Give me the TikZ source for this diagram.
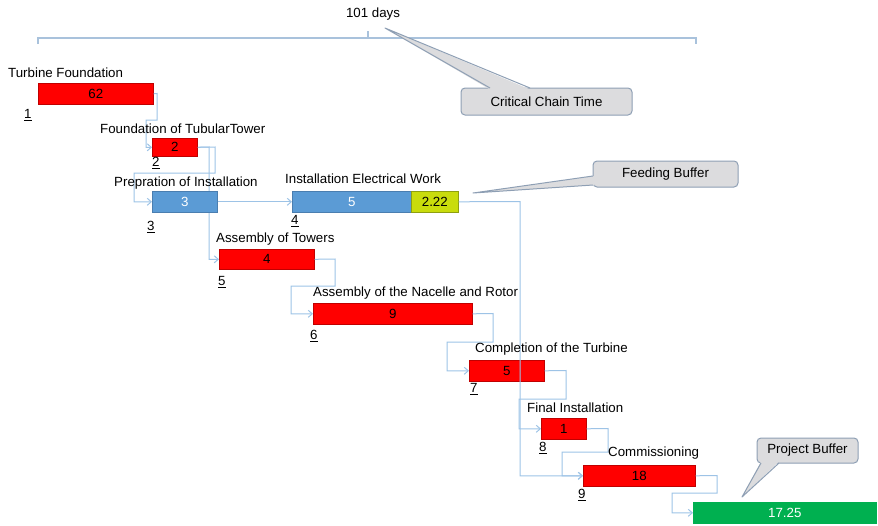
\documentclass[tikz,border=0pt]{standalone}
\usepackage{fontspec}
\setmainfont{Liberation Sans}
\usetikzlibrary{arrows.meta}
\definecolor{taskred}{HTML}{FF0000}
\definecolor{taskredline}{HTML}{C00000}
\definecolor{taskblue}{HTML}{5B9BD5}
\definecolor{taskblueline}{HTML}{4A7EB0}
\definecolor{bufyellow}{HTML}{C9DC0C}
\definecolor{bufyellowline}{HTML}{8FA010}
\definecolor{bufgreen}{HTML}{00B050}
\definecolor{linkblue}{HTML}{9DC3E6}
\definecolor{bracketblue}{HTML}{A9C2DC}
\definecolor{calloutfill}{HTML}{DCDCDE}
\definecolor{calloutline}{HTML}{8E9FB4}
\pgfdeclarelayer{behind}
\pgfsetlayers{behind,main}
\tikzset{
  x=1pt, y=-1pt,
  every node/.style={font=\fontsize{13.3}{15}\selectfont, inner sep=0pt},
  taskbox/.style={anchor=north west, draw, line width=0.6pt},
  redtask/.style={taskbox, fill=taskred, draw=taskredline, text=black},
  bluetask/.style={taskbox, fill=taskblue, draw=taskblueline, text=white},
  feedbuf/.style={taskbox, fill=bufyellow, draw=bufyellowline, text=black},
  projbuf/.style={taskbox, fill=bufgreen, draw=bufgreen, text=white},
  tasklabel/.style={anchor=west},
  tasknum/.style={anchor=west},
  link/.style={draw=linkblue, line width=1pt, -{Straight Barb[length=4pt,width=7pt]}},
  bracketline/.style={draw=bracketblue, line width=1.3pt},
  calloutbox/.style={draw=calloutline, fill=calloutfill, line width=1pt, rounded corners=4pt},
  calloutptr/.style={draw=calloutline, line width=1pt, line join=round},
}
\begin{document}
\begin{tikzpicture}
\useasboundingbox (0,0) rectangle (878,525);

% total duration bracket
\node (days) at (373,14) {101 days};
\coordinate (brL) at (38,38);
\coordinate (brR) at (696,38);
\draw[bracketline] (38,44) -- (brL) -- (brR) -- (696,44);
\draw[bracketline] (368,38) -- (368,31);

% tasks of the chain
\node[redtask, minimum width=115, minimum height=21] (t1) at (38,83) {62};
\node[redtask, minimum width=45, minimum height=18] (t2) at (152,138) {2};
\node[bluetask, minimum width=65, minimum height=21] (t3) at (152,191) {3};
\node[bluetask, minimum width=119, minimum height=21] (t4) at (292,191) {5};
\node[feedbuf, minimum width=47, minimum height=21] (fb) at (411,191) {2.22};
\node[redtask, minimum width=95, minimum height=20] (t5) at (219,249) {4};
\node[redtask, minimum width=159, minimum height=21] (t6) at (313,303) {9};
\node[redtask, minimum width=75, minimum height=21] (t7) at (469,360) {5};
\node[redtask, minimum width=45, minimum height=21] (t8) at (541,418) {1};
\node[redtask, minimum width=112, minimum height=21] (t9) at (583,465) {18};
\node[projbuf, minimum width=183, minimum height=21] (pb) at (693,502) {17.25};

% link running behind the preparation bar
\begin{pgfonlayer}{behind}
\draw[link] (t2.east) -- (209,147) |- (t5.west);
\end{pgfonlayer}

% remaining links
\draw[link] (t1.east) -- (157,93.5) -- (157,120) -- (146,120) |- (t2.west);
\draw[link] (t2.east) -- (215,147) -- (215,173) -- (134,173) |- (t3.west);
\draw[link] (t3.east) -- (t4.west);
\draw[link] (fb.east) -- (520,201.5) |- (t9.west);
\draw[link] (t5.east) -- (335,259) -- (335,286) -- (291,286) |- (t6.west);
\draw[link] (t6.east) -- (493,313.5) -- (493,342) -- (447,342) |- (t7.west);
\draw[link] (t7.east) -- (566,370.5) -- (566,399) -- (519,399) |- (t8.west);
\draw[link] (t8.east) -- (608,428.5) -- (608,452) -- (562,452) |- (t9.west);
\draw[link] (t9.east) -- (717,475.5) -- (717,493) -- (672,493) |- (pb.west);

% task names
\node[tasklabel] (l1) at (8,73) {Turbine Foundation};
\node[tasklabel] (l2) at (100,129) {Foundation of TubularTower};
\node[tasklabel] (l3) at (114,183) {Prepration of Installation};
\node[tasklabel] (l4) at (285,179) {Installation Electrical Work};
\node[tasklabel] (l5) at (216,239) {Assembly of Towers};
\node[tasklabel] (l6) at (313,293) {Assembly of the Nacelle and Rotor};
\node[tasklabel] (l7) at (475,349) {Completion of the Turbine};
\node[tasklabel] (l8) at (527,408) {Final Installation};
\node[tasklabel] (l9) at (608,453) {Commissioning};

% task numbers
\node[tasknum] (n1) at (24,115) {\underline{1}};
\node[tasknum] (n2) at (152,163) {\underline{2}};
\node[tasknum] (n3) at (147,227) {\underline{3}};
\node[tasknum] (n4) at (291,221) {\underline{4}};
\node[tasknum] (n5) at (218,282) {\underline{5}};
\node[tasknum] (n6) at (310,336) {\underline{6}};
\node[tasknum] (n7) at (470,389) {\underline{7}};
\node[tasknum] (n8) at (539,448) {\underline{8}};
\node[tasknum] (n9) at (578,495) {\underline{9}};

% callouts
\node[calloutbox, minimum width=171, minimum height=27] (cct) at (546.5,101.5) {Critical Chain Time};
\coordinate (cctTip) at (385,28);
\fill[calloutfill] (490,89.5) -- (cctTip) -- (530,89.5) -- cycle;
\draw[calloutptr] (490,88) -- (cctTip) -- (530,88);

\node[calloutbox, minimum width=145, minimum height=26] (fbc) at (665.5,174) {Feeding Buffer};
\coordinate (fbcTip) at (473,193);
\fill[calloutfill] (594.5,176) -- (fbcTip) -- (594.5,185) -- cycle;
\draw[calloutptr] (593,176) -- (fbcTip) -- (593,185);

\node[calloutbox, minimum width=101, minimum height=25] (pbc) at (807.5,450.5) {Project Buffer};
\coordinate (pbcTip) at (742,497);
\fill[calloutfill] (761,461.5) -- (pbcTip) -- (779,461.5) -- cycle;
\draw[calloutptr] (761,463) -- (pbcTip) -- (779,463);
\end{tikzpicture}
\end{document}
